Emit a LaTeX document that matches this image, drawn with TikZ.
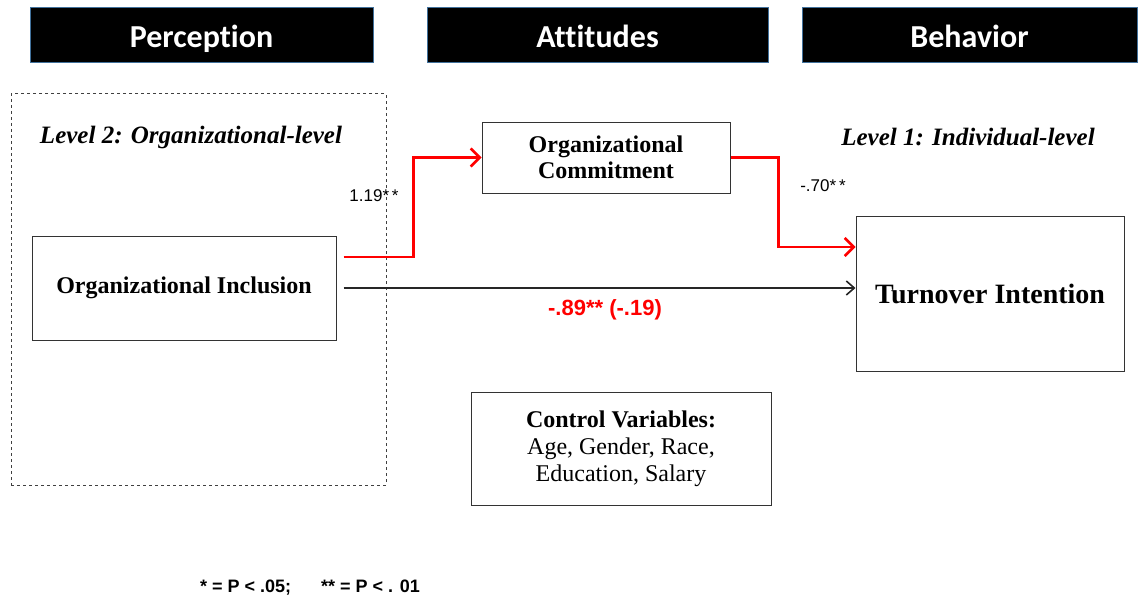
\documentclass[tikz,border=0pt]{standalone}
\usepackage{fontspec}
\setmainfont{Liberation Serif}
\newfontfamily\headfont[Ligatures=NoCommon]{Carlito}
\newfontfamily\labelfont{Liberation Sans}
\usetikzlibrary{arrows.meta,positioning}

\definecolor{headedge}{HTML}{41719C}
\definecolor{pathred}{HTML}{FF0000}

\begin{document}
\begin{tikzpicture}[
    x=1pt, y=-1pt,
    header/.style={
      draw=headedge,
      line width=1pt,
      fill=black,
      text=white,
      minimum height=55pt,
      text height=25pt,
      text depth=0pt,
      font=\headfont\bfseries\fontsize{32}{36}\selectfont
    },
    construct/.style={
      draw=black!80,
      line width=1pt,
      align=center,
      font=\bfseries\fontsize{24}{26}\selectfont
    },
    levellabel/.style={
      font=\bfseries\itshape\fontsize{25}{28}\selectfont
    },
    coef/.style={
      font=\labelfont\fontsize{17}{19}\selectfont
    },
    redpath/.style={
      draw=pathred,
      line width=2.6pt,
      -{Straight Barb[length=9pt,width=18pt,line width=2.6pt]}
    },
    directpath/.style={
      draw=black!85,
      line width=1.6pt,
      -{Straight Barb[length=8pt,width=14pt,line width=1.6pt]}
    }
  ]
    \useasboundingbox (0,0) rectangle (1139,599);

    % --- Column headers
    \node[header, minimum width=343pt] (perception) at (201.5,35) {Perception};
    \node[header, minimum width=341pt] (attitudes) at (597.5,35) {Attitudes};
    \node[header, minimum width=335pt] (behavior) at (969.5,35) {Behavior};

    % --- Organizational level frame
    \node[draw=black!75, dashed, line width=1pt, minimum width=375pt, minimum height=391pt] (orgframe) at (198.5,289.5) {};
    \node[levellabel] (leveltwo) at (191,137) {Level 2: Organizational-level};
    \node[levellabel] (levelone) at (968,137) {Level 1: Individual-level};

    % --- Constructs
    \node[construct, minimum width=304pt, minimum height=104pt] (inclusion) at (184,288) {Organizational Inclusion};
    \node[construct, minimum width=248pt, minimum height=71pt] (commitment) at (606,157.5) {Organizational\\Commitment};
    \node[construct, minimum width=268pt, minimum height=155pt, font=\bfseries\fontsize{28}{32}\selectfont] (turnover) at (990,293.5) {Turnover Intention};
    \node[construct, minimum width=300pt, minimum height=113pt, font=\fontsize{24}{27}\selectfont] (controls) at (621,448.5) {\textbf{Control Variables:}\\Age, Gender, Race,\\Education, Salary};

    % --- Mediated path
    \draw[redpath] ([xshift=7pt,yshift=31pt]inclusion.east) -- ++(70,0) |- (commitment.west);
    \draw[redpath] (commitment.east) -- ++(48,0) |- ([yshift=46.5pt]turnover.west);

    % --- Direct path
    \draw[directpath] ([xshift=7pt]inclusion.east) -- (inclusion.east -| turnover.west);

    % --- Coefficients
    \node[coef] (aeffect) at (374,196) {1.19*\,*};
    \node[coef] (beffect) at (823,186) {-.70*\,*};
    \node[coef, text=pathred, font=\labelfont\bfseries\fontsize{22}{24}\selectfont] (ceffect) at (605,310) {-.89** (-.19)};

    % --- Significance note
    \node[coef, font=\labelfont\bfseries\fontsize{18}{20}\selectfont] (signote) at (310,588) {* = P < .05;\hspace{30pt}** = P < . 01};

\end{tikzpicture}
\end{document}
